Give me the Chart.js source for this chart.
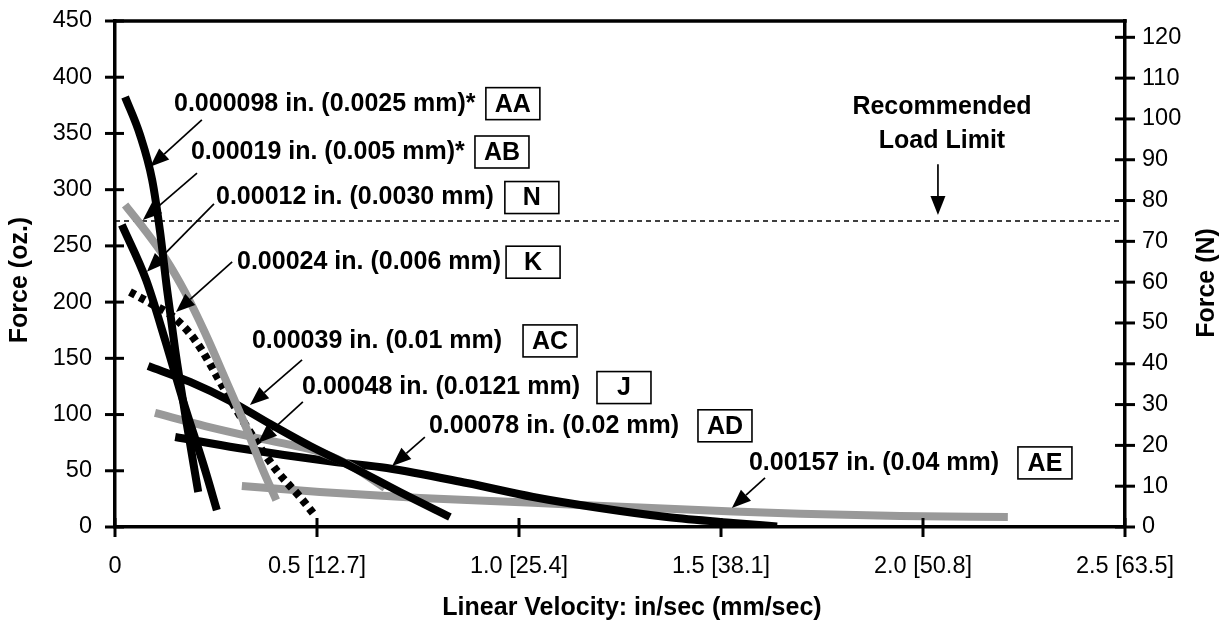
<!DOCTYPE html>
<html><head><meta charset="utf-8">
<script src="https://cdn.jsdelivr.net/npm/chart.js@4.4.1/dist/chart.umd.min.js"></script>
<style>html,body{margin:0;padding:0;background:#fff}canvas{display:block}</style>
</head><body>
<canvas id="c" width="1225" height="623"></canvas>
<script>
// ---- tick labels ----
const xTickLabels = ["0", "0.5 [12.7]", "1.0 [25.4]", "1.5 [38.1]", "2.0 [50.8]", "2.5 [63.5]"];

// ---- series: x = linear velocity (in/sec), y = force (oz.) ----
const seriesCodes  = ["AA", "AB", "N", "K", "AC", "J", "AD", "AE"];
const seriesLabels = ["0.000098 in. (0.0025 mm)*", "0.00019 in. (0.005 mm)*", "0.00012 in. (0.0030 mm)",
                      "0.00024 in. (0.006 mm)", "0.00039 in. (0.01 mm)", "0.00048 in. (0.0121 mm)",
                      "0.00078 in. (0.02 mm)", "0.00157 in. (0.04 mm)"];

const AA_x = [0.025, 0.062, 0.092, 0.111, 0.129, 0.149, 0.176, 0.206];
const AA_y = [382.4, 348.6, 308.6, 264.1, 210.8, 157.4, 95.2, 31.1];
const AB_x = [0.025, 0.074, 0.124, 0.173, 0.223, 0.272, 0.322, 0.364, 0.399];
const AB_y = [286.4, 264.1, 239.2, 209.0, 172.5, 132.5, 90.7, 52.5, 24.0];
const N_x  = [0.017, 0.077, 0.124, 0.168, 0.223, 0.252];
const N_y  = [268.6, 219.7, 166.3, 112.9, 50.7, 15.1];
const K_x  = [0.037, 0.087, 0.141, 0.198, 0.272, 0.334, 0.403, 0.458, 0.490];
const K_y  = [209.0, 199.2, 187.7, 166.3, 121.8, 84.5, 48.9, 26.7, 12.5];
const AC_x = [0.082, 0.186, 0.285, 0.384, 0.483, 0.582, 0.705, 0.829];
const AC_y = [143.2, 129.0, 112.1, 91.6, 72.0, 54.3, 31.1, 8.9];
const J_x  = [0.099, 0.223, 0.342, 0.426, 0.507, 0.589, 0.668];
const J_y  = [101.4, 89.8, 80.0, 73.7, 66.7, 53.4, 34.7];
const AD_x = [0.149, 0.304, 0.545, 0.673, 0.871, 1.035, 1.200, 1.366, 1.530, 1.639];
const AD_y = [80.0, 70.3, 57.8, 52.5, 39.1, 26.7, 16.9, 8.9, 3.6, 0.5];
const AE_x = [0.314, 0.507, 0.755, 1.035, 1.282, 1.530, 1.696, 1.943, 2.210];
const AE_y = [36.5, 31.1, 25.8, 21.5, 17.5, 13.8, 11.8, 9.8, 8.9];

// recommended load limit (N, right axis)
const loadLimitN = 75;
const loadLimitX = [0, 2.5];

// ---- styles ----
const BLACK = "#000000", GRAY = "#999999";
const styles = {
  AA: {c: BLACK, dash: []}, AB: {c: GRAY, dash: []}, N: {c: BLACK, dash: []}, K: {c: BLACK, dash: [6, 5]},
  AC: {c: BLACK, dash: []}, J: {c: GRAY, dash: []}, AD: {c: BLACK, dash: []}, AE: {c: GRAY, dash: []}
};
const seriesData = {AA: [AA_x, AA_y], AB: [AB_x, AB_y], N: [N_x, N_y], K: [K_x, K_y],
                    AC: [AC_x, AC_y], J: [J_x, J_y], AD: [AD_x, AD_y], AE: [AE_x, AE_y]};

// ---- annotation layout (data coordinates: in/sec, oz.) ----
const labelLayout = {
  AA: {tx: 0.146, ty: 376.5, bx: 0.918, ax0: 0.215, ay0: 362.1, ax1: 0.087, ay1: 320.3},
  AB: {tx: 0.188, ty: 333.5, bx: 0.891, ax0: 0.203, ay0: 314.8, ax1: 0.069, ay1: 273.1},
  N:  {tx: 0.250, ty: 293.0, bx: 0.965, ax0: 0.245, ay0: 287.3, ax1: 0.079, ay1: 226.9},
  K:  {tx: 0.302, ty: 235.5, bx: 0.968, ax0: 0.290, ay0: 235.7, ax1: 0.151, ay1: 191.2},
  AC: {tx: 0.339, ty: 165.5, bx: 1.010, ax0: 0.463, ay0: 148.6, ax1: 0.334, ay1: 108.5},
  J:  {tx: 0.463, ty: 124.0, bx: 1.193, ax0: 0.465, ay0: 111.2, ax1: 0.354, ay1: 74.7},
  AD: {tx: 0.777, ty: 90.0,  bx: 1.443, ax0: 0.767, ay0: 80.0,  ax1: 0.686, ay1: 54.2},
  AE: {tx: 1.569, ty: 57.0,  bx: 2.235, ax0: 1.609, ay0: 43.6,  ax1: 1.527, ay1: 16.9}
};
const loadText = {x: 2.047, y1: 373.5, y2: 343.0, ax: 2.037, ay0: 322.5, ay1: 277.4};

const FONT = '"Liberation Sans", Arial, Helvetica, sans-serif';

const datasets = seriesCodes.map(code => ({
  label: code,
  data: seriesData[code][0].map((x, i) => ({x: x, y: seriesData[code][1][i]})),
  borderColor: styles[code].c,
  borderDash: styles[code].dash,
  borderWidth: 8,
  borderCapStyle: 'butt',
  pointRadius: 0,
  showLine: true,
  fill: false,
  cubicInterpolationMode: 'monotone',
  yAxisID: 'y'
}));
datasets.push({
  label: 'limit',
  data: loadLimitX.map(x => ({x: x, y: loadLimitN})),
  borderColor: BLACK, borderWidth: 1.5, borderDash: [5, 4], pointRadius: 0, showLine: true, yAxisID: 'y2'
});

function drawArrow(ctx, x1, y1, x2, y2) {
  const a = Math.atan2(y2 - y1, x2 - x1), L = 19, W = 7.5;
  const bx = x2 - L * Math.cos(a), by = y2 - L * Math.sin(a);
  ctx.beginPath(); ctx.moveTo(x1, y1); ctx.lineTo(bx, by);
  ctx.lineWidth = 1.7; ctx.strokeStyle = BLACK; ctx.setLineDash([]); ctx.stroke();
  ctx.beginPath(); ctx.moveTo(x2, y2);
  ctx.lineTo(bx + W * Math.sin(a), by - W * Math.cos(a));
  ctx.lineTo(bx - W * Math.sin(a), by + W * Math.cos(a));
  ctx.closePath(); ctx.fillStyle = BLACK; ctx.fill();
}

const overlay = {
  id: 'overlay',
  afterDraw(chart) {
    const ctx = chart.ctx, xs = chart.scales.x, ys = chart.scales.y, y2 = chart.scales.y2, ca = chart.chartArea;
    ctx.save();
    // top border
    ctx.strokeStyle = BLACK; ctx.lineWidth = 3.5;
    ctx.beginPath(); ctx.moveTo(ca.left - 1.75, ca.top); ctx.lineTo(ca.right + 1.75, ca.top); ctx.stroke();
    // crossing ticks
    ctx.lineWidth = 3;
    ys.ticks.forEach(t => { const p = ys.getPixelForValue(t.value); ctx.beginPath(); ctx.moveTo(ca.left - 10, p); ctx.lineTo(ca.left + 9, p); ctx.stroke(); });
    y2.ticks.forEach(t => { const p = y2.getPixelForValue(t.value); ctx.beginPath(); ctx.moveTo(ca.right - 10, p); ctx.lineTo(ca.right + 10, p); ctx.stroke(); });
    xs.ticks.forEach(t => { const p = xs.getPixelForValue(t.value); ctx.beginPath(); ctx.moveTo(p, ca.bottom - 9); ctx.lineTo(p, ca.bottom + 10); ctx.stroke(); });

    // labels, boxes and arrows
    ctx.font = 'bold 25px ' + FONT; ctx.textBaseline = 'middle'; ctx.fillStyle = BLACK;
    seriesCodes.forEach((code, i) => {
      const L = labelLayout[code];
      const tx = xs.getPixelForValue(L.tx), ty = ys.getPixelForValue(L.ty);
      ctx.textAlign = 'left'; ctx.fillText(seriesLabels[i], tx, ty);
      const bx = xs.getPixelForValue(L.bx);
      ctx.lineWidth = 1.6; ctx.strokeStyle = BLACK;
      ctx.strokeRect(bx, ty - 16, 54, 32);
      ctx.textAlign = 'center'; ctx.fillText(code, bx + 27, ty + 1);
      drawArrow(ctx, xs.getPixelForValue(L.ax0), ys.getPixelForValue(L.ay0), xs.getPixelForValue(L.ax1), ys.getPixelForValue(L.ay1));
    });
    ctx.textAlign = 'center';
    ctx.fillText('Recommended', xs.getPixelForValue(loadText.x), ys.getPixelForValue(loadText.y1));
    ctx.fillText('Load Limit', xs.getPixelForValue(loadText.x), ys.getPixelForValue(loadText.y2));
    drawArrow(ctx, xs.getPixelForValue(loadText.ax), ys.getPixelForValue(loadText.ay0), xs.getPixelForValue(loadText.ax), ys.getPixelForValue(loadText.ay1));

    // axis titles
    ctx.fillText('Linear Velocity: in/sec (mm/sec)', 632, 608);
    ctx.save(); ctx.translate(20, 280); ctx.rotate(-Math.PI / 2); ctx.fillText('Force (oz.)', 0, 0); ctx.restore();
    ctx.save(); ctx.translate(1207, 283); ctx.rotate(-Math.PI / 2); ctx.fillText('Force (N)', 0, 0); ctx.restore();
    ctx.restore();
  }
};

const tickFont = {family: FONT, size: 23.5, weight: 'normal'};
function fixV(w) { return (s) => { s.width = w; s.paddingTop = 0; s.paddingBottom = 0; }; }
new Chart(document.getElementById('c'), {
  type: 'scatter',
  data: {datasets: datasets},
  plugins: [overlay],
  options: {
    responsive: false, animation: false, devicePixelRatio: 1,
    layout: {padding: {top: 21, left: 0, right: 0, bottom: 0}},
    plugins: {legend: {display: false}, tooltip: {enabled: false}},
    scales: {
      x: {
        type: 'linear', min: 0, max: 2.5,
        grid: {display: false, drawTicks: false},
        border: {display: true, width: 3.5, color: BLACK},
        ticks: {stepSize: 0.5, autoSkip: false, maxRotation: 0, padding: 25, color: BLACK, font: tickFont,
                callback: (v) => { const i = Math.round(v / 0.5); return xTickLabels[i]; }},
        afterFit: (s) => { s.height = 96; s.paddingLeft = 0; s.paddingRight = 0; }
      },
      y: {
        type: 'linear', position: 'left', min: 0, max: 450,
        grid: {display: false, drawTicks: false},
        border: {display: true, width: 3.5, color: BLACK},
        ticks: {stepSize: 50, padding: 23, color: BLACK, font: tickFont},
        afterFit: fixV(115)
      },
      y2: {
        type: 'linear', position: 'right', min: 0, max: 124,
        grid: {display: false, drawTicks: false},
        border: {display: true, width: 3.5, color: BLACK},
        ticks: {stepSize: 10, includeBounds: false, padding: 17, color: BLACK, font: tickFont},
        afterFit: fixV(100)
      }
    }
  }
});
</script>
</body></html>
